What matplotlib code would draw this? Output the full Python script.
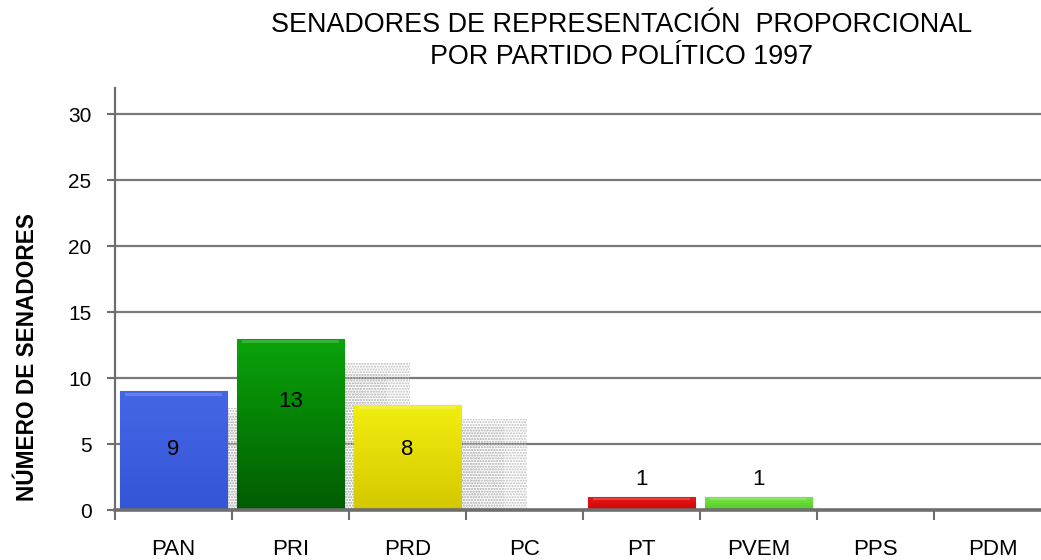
import matplotlib
matplotlib.use("Agg")
import matplotlib.pyplot as plt
import numpy as np
from matplotlib.colors import LinearSegmentedColormap

partidos = ["PAN", "PRI", "PRD", "PC", "PT", "PVEM", "PPS", "PDM"]
senadores = [9, 13, 8, 0, 1, 1, 0, 0]
color_sup = ["#4567e6", "#0aa40a", "#f2ee10", "#ffffff", "#f01818", "#78e848", "#ffffff", "#ffffff"]
color_inf = ["#3455d6", "#015c01", "#d4c800", "#ffffff", "#c80808", "#55c828", "#ffffff", "#ffffff"]
yticks = [0, 5, 10, 15, 20, 25, 30]

plt.rcParams['font.family'] = ['Liberation Sans', 'DejaVu Sans']

W, H = 1041, 560
fig = plt.figure(figsize=(W / 100, H / 100), dpi=100)
ax = fig.add_axes([115 / W, 50 / H, 936 / W, 422 / H])
x = np.arange(len(partidos))

# grid
for yv in yticks[1:]:
    ax.axhline(yv, color="#7a7a7a", lw=1.6, zorder=1)

# shadows (dotted, fading to the right)
for xi, v in zip(x, senadores):
    if v > 1:
        for k, (dx, fh, a) in enumerate([(0.55, 0.86, 0.9), (0.35, 0.80, 0.6), (0.15, 0.74, 0.4)]):
            ax.bar(xi + dx / 2 + 0.05, v * fh, width=dx + 0.85, bottom=0,
                   color="none", edgecolor=(0.72, 0.72, 0.72, a), hatch="......",
                   lw=0, zorder=1.5 + k * 0.01)

bw = 0.915
bars = ax.bar(x, senadores, width=bw, color=color_sup, edgecolor="#00000030",
              lw=1.0, zorder=3)
for b, cs, ci, v in zip(bars, color_sup, color_inf, senadores):
    if v <= 0:
        continue
    x0, y0 = b.get_x(), b.get_y()
    w, h = b.get_width(), b.get_height()
    cmap = LinearSegmentedColormap.from_list("g", [ci, cs])
    grad = np.linspace(0, 1, 256).reshape(-1, 1)
    im = ax.imshow(grad, cmap=cmap, origin="lower", aspect="auto",
                   extent=[x0, x0 + w, y0, y0 + h], zorder=3.5)
    im.set_clip_path(b)
    ax.fill_between([x0 + 0.04, x0 + w - 0.04], y0 + h - min(0.35, h * 0.25),
                    y0 + h - min(0.12, h * 0.1), color="white", alpha=0.18,
                    lw=0, zorder=3.6)
ax.set_xlim(-0.5, len(partidos) - 0.5)
ax.set_ylim(0, 32)

# value labels
for xi, v in zip(x, senadores):
    if v >= 5:
        ax.text(xi, 4.6 if v < 10 else v - 4.8, str(v), ha="center",
                va="center", fontsize=16, color="black", zorder=5)
    elif v > 0:
        ax.text(xi, v + 1.3, str(v), ha="center", va="center", fontsize=16,
                color="black", zorder=5)

for s in ["top", "right"]:
    ax.spines[s].set_visible(False)
ax.spines["left"].set_color("#6e6e6e")
ax.spines["left"].set_linewidth(1.6)
ax.spines["bottom"].set_color("#6e6e6e")
ax.spines["bottom"].set_linewidth(2.6)
ax.spines["bottom"].set_zorder(4)

ax.set_yticks(yticks)
ax.set_yticklabels([str(t) for t in yticks], fontsize=15)
ax.tick_params(axis="y", length=6, width=1.5, color="#6e6e6e", pad=11)

ax.set_xticks(np.arange(-0.5, len(partidos), 1.0))
ax.set_xticklabels([])
ax.tick_params(axis="x", which="major", length=7, width=1.5, color="#6e6e6e")
ax.set_xticks(x, minor=True)
ax.set_xticklabels(partidos, minor=True, fontsize=16)
ax.tick_params(axis="x", which="minor", length=0, pad=21)

fig.text(28 / W, 1 - 357 / H, "NÚMERO DE SENADORES", rotation=90,
         ha="center", va="center", fontsize=16.3, fontweight="bold")
fig.text(622 / W, 1 - 41 / H,
         "SENADORES DE REPRESENTACIÓN  PROPORCIONAL\nPOR PARTIDO POLÍTICO 1997",
         ha="center", va="center", fontsize=19.4, linespacing=1.28)

fig.savefig("out.png", dpi=100)
